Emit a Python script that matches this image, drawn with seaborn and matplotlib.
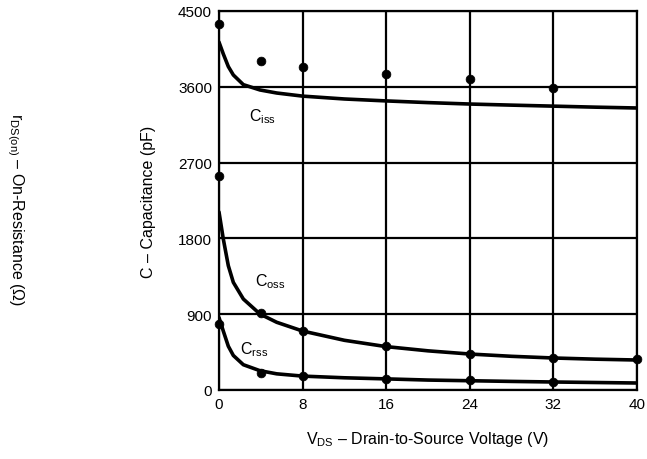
import numpy as np
import pandas as pd
import matplotlib
matplotlib.use("Agg")
import matplotlib.pyplot as plt
import seaborn as sns

# curve points (V, pF)
curve_v = [0, 0.41, 0.89, 1.37, 2.33, 3.92, 5.52, 8, 12, 16, 20, 24, 28, 32, 36, 40]
ciss_curve = [4130, 3990, 3840, 3740, 3625, 3562, 3526, 3489, 3455, 3432, 3412, 3395, 3382, 3370, 3358, 3348]
coss_curve = [2113, 1793, 1476, 1278, 1080, 902, 804, 700, 590, 515, 465, 427, 400, 380, 366, 356]
crss_curve = [860, 700, 520, 410, 300, 229, 192, 165, 145, 132, 118, 110, 102, 95, 89, 83]

# measured dots
dot_v_ciss = [0, 4, 8, 16, 24, 32]
ciss_dots = [4346, 3906, 3835, 3752, 3693, 3586]
dot_v_coss = [0, 4, 8, 16, 24, 32, 40]
coss_dots = [2541, 914, 700, 522, 427, 380, 368]
dot_v_crss = [0, 4, 8, 16, 24, 32]
crss_dots = [784, 200, 165, 132, 115, 100]

x_ticks = [0, 8, 16, 24, 32, 40]
y_ticks = [0, 900, 1800, 2700, 3600, 4500]

sns.set_theme(style="white")
plt.rcParams['font.family'] = ['Liberation Sans', 'DejaVu Sans']
plt.rcParams['mathtext.fontset'] = 'custom'
plt.rcParams['mathtext.rm'] = 'Liberation Sans'
plt.rcParams['mathtext.it'] = 'Liberation Sans'
plt.rcParams['text.color'] = 'black'
plt.rcParams['axes.labelcolor'] = 'black'

curves = pd.DataFrame({
    'V': curve_v * 3,
    'C': ciss_curve + coss_curve + crss_curve,
    'series': ['Ciss'] * len(curve_v) + ['Coss'] * len(curve_v) + ['Crss'] * len(curve_v),
})
dots = pd.DataFrame({
    'V': dot_v_ciss + dot_v_coss + dot_v_crss,
    'C': ciss_dots + coss_dots + crss_dots,
})

fig = plt.figure(figsize=(6.47, 4.6), dpi=100)
ax = fig.add_axes([0.3385, 0.15, 0.646, 0.824])

sns.lineplot(data=curves, x='V', y='C', units='series', estimator=None,
             color='black', linewidth=2.6, ax=ax, zorder=3)
sns.scatterplot(data=dots, x='V', y='C', color='black', s=40,
                edgecolor='black', ax=ax, zorder=4, clip_on=False)

ax.set_xlim(0, 40)
ax.set_ylim(0, 4500)
ax.set_xticks(x_ticks)
ax.set_yticks(y_ticks)
ax.grid(True, color='black', linewidth=1.6)
ax.set_axisbelow(True)
for s in ax.spines.values():
    s.set_color('black')
    s.set_linewidth(1.6)
ax.tick_params(axis='both', labelsize=11, colors='black', length=0, pad=5)

ax.set_xlabel(r'V$_{\mathrm{DS}}$ – Drain-to-Source Voltage (V)', fontsize=11.5, labelpad=13)
ax.set_ylabel('C – Capacitance (pF)', fontsize=11.5, labelpad=16)

ax.text(4.2, 3253, r'C$_{\mathrm{iss}}$', fontsize=11.5, ha='center', va='center')
ax.text(4.9, 1294, r'C$_{\mathrm{oss}}$', fontsize=11.5, ha='center', va='center')
ax.text(3.4, 487, r'C$_{\mathrm{rss}}$', fontsize=11.5, ha='center', va='center')

fig.text(0.024, 0.545, r'r$_{\mathrm{DS(on)}}$ – On-Resistance ($\Omega$)', rotation=270,
         fontsize=11.5, ha='center', va='center')

fig.savefig('out.png', dpi=100)
